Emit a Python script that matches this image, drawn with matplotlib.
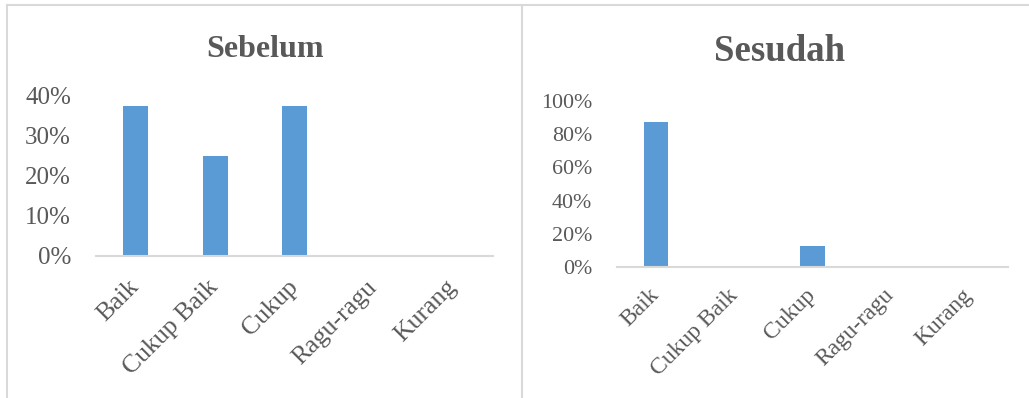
import numpy as np
import matplotlib
matplotlib.use('Agg')
from matplotlib import pyplot as plt
from matplotlib.lines import Line2D
from matplotlib.ticker import PercentFormatter

categories = ["Baik", "Cukup Baik", "Cukup", "Ragu-ragu", "Kurang"]
sebelum = [0.375, 0.25, 0.375, 0.0, 0.0]
sesudah = [0.875, 0.0, 0.125, 0.0, 0.0]

W, H = 1029, 398
BAR = '#5b9bd5'
TEXT = '#595959'
GRID = '#d9d9d9'

plt.rcParams['font.family'] = ['Liberation Serif', 'DejaVu Serif']

fig = plt.figure(figsize=(W / 100, H / 100), dpi=100)


def px_axes(x0, x1, ybase, ytop):
    return fig.add_axes([x0 / W, (H - ybase) / H, (x1 - x0) / W, (ybase - ytop) / H])


def bar_panel(ax, values, ymax, step, tick_size, label_size, label_pad):
    x = np.arange(len(categories))
    ax.bar(x, values, width=0.315, color=BAR, zorder=2)
    ax.set_xlim(-0.5, len(categories) - 0.5)
    ax.set_ylim(0, ymax)
    ax.set_yticks(np.arange(0, ymax + 1e-9, step))
    ax.yaxis.set_major_formatter(PercentFormatter(1.0, decimals=0))
    ax.set_xticks(x)
    ax.set_xticklabels(categories, rotation=45, ha='right', va='center',
                       rotation_mode='anchor')
    for s in ['top', 'right', 'left']:
        ax.spines[s].set_visible(False)
    ax.spines['bottom'].set_color(GRID)
    ax.spines['bottom'].set_linewidth(1.5)
    ax.tick_params(axis='y', length=0, pad=18, labelsize=tick_size, colors=TEXT)
    ax.tick_params(axis='x', length=0, pad=label_pad, labelsize=label_size, colors=TEXT)


ax1 = px_axes(96, 493, 256, 96)
bar_panel(ax1, sebelum, 0.4, 0.1, 18, 18.5, 20)

ax2 = px_axes(617, 1008, 267, 101)
bar_panel(ax2, sesudah, 1.0, 0.2, 15.8, 17, 18)

fig.text(265 / W, 1 - 57 / H, "Sebelum", ha='center', va='baseline',
         fontsize=23, fontweight='bold', color=TEXT)
fig.text(779 / W, 1 - 61 / H, "Sesudah", ha='center', va='baseline',
         fontsize=26.5, fontweight='bold', color=TEXT)

# panel borders
for xs, ys in [([7, W], [5, 5]), ([7, 7], [5, H]), ([522, 522], [5, H])]:
    fig.add_artist(Line2D([v / W for v in xs], [1 - v / H for v in ys],
                          color=GRID, linewidth=1.5))

fig.savefig('out.png', dpi=100)
